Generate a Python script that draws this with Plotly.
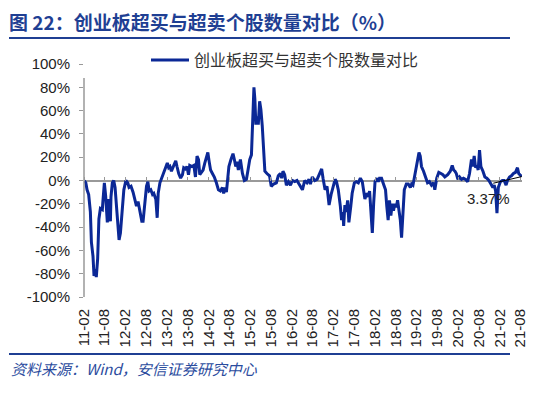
import plotly.graph_objects as go

dates = [
"2011-02-03","2011-02-17","2011-02-28","2011-03-14","2011-03-29","2011-04-07","2011-04-21","2011-04-30",
"2011-05-14","2011-05-20","2011-06-01","2011-06-12","2011-06-25","2011-07-12","2011-07-17","2011-07-30",
"2011-08-10","2011-08-25","2011-09-06","2011-09-21","2011-09-26","2011-10-08","2011-10-20","2011-11-01",
"2011-11-18","2011-12-06","2011-12-18","2012-01-02","2012-01-17","2012-02-04","2012-02-21","2012-03-03",
"2012-03-20","2012-04-07","2012-04-25","2012-05-07","2012-05-21","2012-06-11","2012-06-23","2012-07-04",
"2012-07-19","2012-08-03","2012-08-15","2012-08-26","2012-09-10","2012-09-25","2012-10-06","2012-10-24",
"2012-11-05","2012-11-14","2012-11-29","2012-12-13","2013-01-03","2013-01-12","2013-02-02","2013-02-14",
"2013-02-25","2013-03-10","2013-03-24","2013-04-17","2013-04-28","2013-05-13","2013-05-30","2013-06-15",
"2013-06-26","2013-07-11","2013-07-25","2013-08-07","2013-08-18","2013-09-05","2013-09-23","2013-10-07",
"2013-10-21","2013-11-03","2013-11-14","2013-12-02","2013-12-13","2013-12-28","2014-01-12","2014-01-24",
"2014-02-05","2014-02-17","2014-03-05","2014-03-22","2014-04-09","2014-04-27","2014-05-14","2014-06-01",
"2014-06-12","2014-06-24","2014-07-06","2014-07-11","2014-07-20","2014-07-28","2014-08-15","2014-09-02",
"2014-09-14","2014-09-26","2014-10-07","2014-10-19","2014-11-06","2014-11-24","2014-12-11","2014-12-29",
"2015-01-12","2015-01-27","2015-02-11","2015-02-25","2015-03-05","2015-03-13","2015-03-22","2015-04-04",
"2015-04-12","2015-04-24","2015-05-05","2015-05-17","2015-05-28","2015-06-09","2015-06-27","2015-07-20",
"2015-08-04","2015-08-25","2015-09-18","2015-10-05","2015-10-23","2015-11-04","2015-11-15","2015-11-30",
"2015-12-15","2016-01-02","2016-01-20","2016-02-06","2016-02-27","2016-03-17","2016-04-04","2016-05-04",
"2016-05-24","2016-06-13","2016-07-01","2016-07-13","2016-07-30","2016-08-20","2016-09-10","2016-10-03",
"2016-10-20","2016-11-01","2016-11-19","2016-12-06","2016-12-24","2017-01-11","2017-01-28","2017-02-15",
"2017-02-27","2017-03-15","2017-04-02","2017-04-13","2017-04-25","2017-05-01","2017-05-12","2017-05-24",
"2017-06-05","2017-06-16","2017-07-03","2017-07-15","2017-08-03","2017-08-20","2017-09-07","2017-09-25",
"2017-10-12","2017-10-23","2017-11-04","2017-11-16","2017-12-04","2017-12-15","2017-12-26","2018-01-08",
"2018-01-20","2018-02-01","2018-02-18","2018-03-01","2018-03-12","2018-03-30","2018-04-16","2018-05-04",
"2018-05-15","2018-05-27","2018-06-08","2018-06-20","2018-07-02","2018-07-13","2018-07-25","2018-08-06",
"2018-08-18","2018-08-29","2018-09-11","2018-09-22","2018-10-04","2018-10-16","2018-11-03","2018-11-20",
"2018-12-08","2018-12-19","2018-12-31","2019-01-18","2019-02-05","2019-02-22","2019-03-05","2019-03-16",
"2019-04-03","2019-04-20","2019-05-08","2019-05-25","2019-06-12","2019-06-30","2019-07-11","2019-07-28",
"2019-08-15","2019-09-03","2019-09-20","2019-10-07","2019-11-01","2019-11-24","2019-12-11","2019-12-23",
"2020-01-04","2020-01-16","2020-01-30","2020-02-14","2020-03-02","2020-03-19","2020-04-06","2020-04-24",
"2020-05-11","2020-05-28","2020-06-09","2020-06-21","2020-07-03","2020-07-14","2020-07-26","2020-08-07",
"2020-08-19","2020-09-06","2020-09-23","2020-10-10","2020-10-28","2020-11-15","2020-12-02","2020-12-14",
"2020-12-26","2021-01-07","2021-01-19","2021-02-06","2021-02-23","2021-03-11","2021-03-28","2021-04-09",
"2021-04-27","2021-05-14","2021-06-01","2021-06-19","2021-07-06","2021-07-17","2021-07-30","2021-08-13",
]
values = [
0,-2,-8,-12,-27,-53,-65,-82,
-76,-83,-67,-33,-24,-25,-18,-2,
-13,-36,-16,-35,-14,-2,0,-6,
-28,-51,-45,-25,-8,0,-2,-6,
-5,-10,-19,-22,-18,-28,-35,-35,
-19,-5,-1,-9,-8,-12,-11,-16,
-32,-11,-2,2,7,11,15,11,
12,8,12,17,12,6,2,5,
11,10,12,5,13,12,13,3,
21,18,5,7,9,15,21,24,
16,9,6,3,-2,-8,-9,-6,
-11,-6,-10,-3,5,12,18,23,
18,12,16,9,18,6,0,1,
9,18,22,61,80,70,48,55,
48,68,61,47,24,8,6,4,
-5,-3,-2,4,6,2,8,5,
-4,-1,-4,0,-1,0,-3,-8,
0,-2,1,-3,3,0,1,6,
10,2,-8,-5,-21,-12,-5,1,
-1,-8,-22,-34,-27,-39,-21,-27,
-17,-36,-22,-11,-2,-1,-2,2,
-1,-8,-16,-11,-14,-9,-25,-45,
-19,-1,2,-1,2,2,-3,-8,
-22,-34,-17,-30,-20,-26,-20,-23,
-17,-26,-34,-49,-31,-8,-3,-3,
-6,-3,-4,6,15,24,21,12,
8,2,-2,-1,-4,-2,-8,2,
7,6,5,3,5,8,13,9,
8,6,1,3,1,2,1,-1,
6,18,12,21,11,13,9,26,
12,8,3,2,0,-3,-6,-4,
-9,-28,-6,-1,0,0,-4,0,
3,4,6,7,11,6,5,3.37,
]

tick_dates = [f"{y}-{m}-01" for y in range(2011, 2022) for m in ("02", "08")]
tick_text = [f"{y % 100:02d}-{m}" for y in range(2011, 2022) for m in ("02", "08")]
y_ticks = list(range(-100, 101, 20))
y_text = [f"{v}%" for v in y_ticks]

series_name = "创业板超买与超卖个股数量对比"
title_text = "图 22：创业板超买与超卖个股数量对比（%）"
source_text = "资料来源：<i>Wind</i>，安信证券研究中心"
last_label = f"{values[-1]:.2f}%"

# page offset of the figure div (browser default body margin)
OFF = 8
W, H = 550, 396
# plot area in page pixels
PL, PR, PT, PB = 84, 522, 64, 297
L = PL - OFF
T = PT - OFF
R = W - (PR - OFF)
B = H - (PB - OFF)
pw, ph = PR - PL, PB - PT

def px_x(x):
    return (x - PL) / pw

def px_y(y):
    return (PB - y) / ph

LINE_C = "#0B2896"
BLUE = "#1F3F93"
GRAY = "#999999"
NUM_FONT = "Liberation Sans, Arial, sans-serif"
CJK_FONT = "Noto Sans CJK SC, sans-serif"

fig = go.Figure()
fig.add_trace(go.Scatter(x=dates, y=values, mode="lines", name=series_name,
                         line=dict(color=LINE_C, width=3), hoverinfo="skip"))
fig.add_trace(go.Scatter(x=dates, y=values, mode="lines", xaxis="x2", showlegend=False,
                         line=dict(color="rgba(0,0,0,0)", width=0), hoverinfo="skip"))

fig.update_layout(
    width=W, height=H,
    margin=dict(l=L, r=R, t=T, b=B, autoexpand=False),
    paper_bgcolor="white", plot_bgcolor="white",
    title=dict(text=title_text, xref="container", yref="container",
               x=(9 - OFF) / W, xanchor="left", y=1 - (23 - OFF) / H, yanchor="middle",
               font=dict(family=CJK_FONT, size=19, color=BLUE, weight="bold")),
    xaxis=dict(type="date", range=["2011-02-01", "2021-08-15"],
               tickvals=tick_dates, ticktext=tick_text, tickangle=-90,
               showline=False, showgrid=False, zeroline=False, ticks="",
               ticklabelstandoff=8, automargin=False,
               tickfont=dict(family=NUM_FONT, size=15, color="#222222")),
    xaxis2=dict(type="date", overlaying="x", matches="x", anchor="free", position=0.5,
                side="top", tickvals=tick_dates, ticks="outside", ticklen=4,
                tickcolor=GRAY, tickwidth=1.2, showticklabels=False, automargin=False,
                showline=False, showgrid=False, zeroline=False),
    yaxis=dict(range=[-100, 100], tickvals=y_ticks, ticktext=y_text,
               showgrid=False, zeroline=True, zerolinecolor=GRAY, zerolinewidth=1.5,
               showline=False, ticks="outside", ticklen=4, tickcolor=GRAY, tickwidth=1.2,
               ticklabelstandoff=6, automargin=False,
               tickfont=dict(family=NUM_FONT, size=15, color="#222222")),
    legend=dict(orientation="h", x=px_x(146), xanchor="left", y=px_y(60), yanchor="middle",
                bgcolor="rgba(0,0,0,0)", font=dict(family=CJK_FONT, size=16, color="#333333"),
                itemwidth=38),
    showlegend=True,
)

shapes = [
    dict(type="line", xref="paper", yref="y", x0=0, x1=0, y0=-100, y1=88,
         line=dict(color=GRAY, width=1.5)),
    dict(type="line", xref="paper", yref="paper", x0=px_x(9), x1=px_x(510),
         y0=px_y(38), y1=px_y(38), line=dict(color=BLUE, width=2)),
    dict(type="line", xref="paper", yref="paper", x0=px_x(9), x1=px_x(510),
         y0=px_y(354), y1=px_y(354), line=dict(color=BLUE, width=2)),
]
fig.update_layout(shapes=shapes)

fig.add_annotation(x=dates[-1], y=values[-1], text="", showarrow=True, arrowhead=0,
                   arrowwidth=1, arrowcolor="#000000", ax=-30, ay=7, axref="pixel", ayref="pixel",
                   standoff=0, startstandoff=0)
fig.add_annotation(x=dates[-1], y=values[-1], text=last_label, showarrow=False,
                   xshift=-33, yshift=-21.5,
                   font=dict(family=NUM_FONT, size=15, color="#222222"))
fig.add_annotation(xref="paper", yref="paper", x=px_x(9), y=px_y(368), xanchor="left",
                   yanchor="middle", showarrow=False, text=source_text,
                   font=dict(family=CJK_FONT, size=15, color="#2B4C9E", style="italic"))

fig.write_html("out.html")
